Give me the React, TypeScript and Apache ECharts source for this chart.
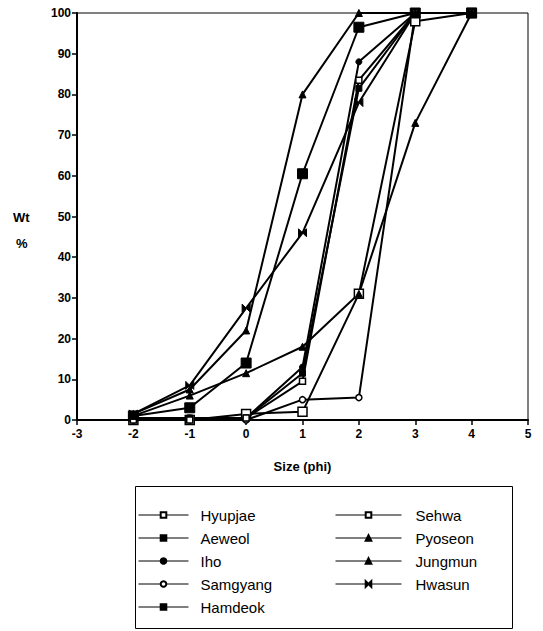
import React, { useEffect, useRef } from "react";
import * as echarts from "echarts";

const sizes = [-2, -1, 0, 1, 2, 3, 4];
const hyupjae = [0, 0, 1.5, 2, 31, 98, 100];
const aeweol = [1, 3, 14, 60.5, 96.5, 100, 100];
const iho = [0.5, 0.5, 0.5, 13, 88, 100, 100];
const samgyang = [0, 0, 0, 5, 5.5, 100, 100];
const hamdeok = [0.5, 0.5, 0.5, 11.5, 81.5, 100, 100];
const sehwa = [0, 0, 0.5, 9.5, 83.5, 100, 100];
const pyoseon = [1, 6, 11.5, 18, 31, 73, 100];
const jungmun = [1.5, 7.5, 22, 80, 100, 100, 100];
const hwasun = [1.5, 8.5, 27.5, 46, 78, 100, 100];

const leftNames = ["Hyupjae", "Aeweol", "Iho", "Samgyang", "Hamdeok"];
const rightNames = ["Sehwa", "Pyoseon", "Jungmun", "Hwasun"];

const FONT = "Liberation Sans, Arial, sans-serif";

export default function App() {
  const ref = useRef<HTMLDivElement>(null);
  useEffect(() => {
    if (!ref.current) return;
    const chart = echarts.init(ref.current, null, { renderer: "svg" });
    const open = { color: "#fff", borderColor: "#000", borderWidth: 1.5 };
    const filled = { color: "#000", borderColor: "#000", borderWidth: 1 };
    const mk = (name: string, vals: number[], symbol: string, size: number, style: any) => ({
      name,
      type: "line",
      data: sizes.map((x, i) => [x, vals[i]]),
      symbol,
      symbolSize: size,
      showSymbol: true,
      lineStyle: { color: "#000", width: 2 },
      itemStyle: style,
      emphasis: { disabled: true },
      z: 3,
    });
    const bowtie = "path://M0,0L10,10L10,0L0,10Z";
    const series = [
      mk("Hyupjae", hyupjae, "rect", 9, open),
      mk("Aeweol", aeweol, "rect", 10, filled),
      mk("Iho", iho, "circle", 6, filled),
      mk("Samgyang", samgyang, "circle", 6, open),
      mk("Hamdeok", hamdeok, "rect", 6, filled),
      mk("Sehwa", sehwa, "rect", 6, open),
      mk("Pyoseon", pyoseon, "triangle", 7, filled),
      mk("Jungmun", jungmun, "triangle", 7, filled),
      mk("Hwasun", hwasun, bowtie, 8, filled),
    ];
    const legendText = (pad: number) => ({
      fontSize: 15,
      lineHeight: 16,
      fontFamily: FONT,
      color: "#000",
      padding: [0, 0, 0, pad],
    });
    const legendBase = {
      orient: "vertical",
      top: 502,
      height: 124,
      itemHeight: 7,
      itemGap: 7,
      selectedMode: false,
      lineStyle: { width: 1 },
    };
    chart.setOption({
      animation: false,
      backgroundColor: "#fff",
      grid: {
        left: 77,
        right: 15,
        top: 13,
        bottom: 211,
        show: true,
        borderColor: "#000",
        borderWidth: 1,
      },
      xAxis: {
        type: "value",
        min: -3,
        max: 5,
        interval: 1,
        name: "Size (phi)",
        nameLocation: "middle",
        nameGap: 40,
        nameTextStyle: { fontSize: 13, fontWeight: "bold", fontFamily: FONT, color: "#000" },
        axisLine: { onZero: false, lineStyle: { color: "#000", width: 2 } },
        axisTick: { show: true, length: 5, lineStyle: { color: "#000", width: 1.5 } },
        axisLabel: { fontSize: 12, fontWeight: "bold", fontFamily: FONT, color: "#000", margin: 8 },
        splitLine: { show: false },
      },
      yAxis: {
        type: "value",
        min: 0,
        max: 100,
        interval: 10,
        axisLine: { show: true, onZero: false, lineStyle: { color: "#000", width: 2 } },
        axisTick: { show: true, length: 5, lineStyle: { color: "#000", width: 1.5 } },
        axisLabel: { fontSize: 12, fontWeight: "bold", fontFamily: FONT, color: "#000", margin: 6 },
        splitLine: { show: false },
      },
      legend: [
        { ...legendBase, data: leftNames, left: 133, itemWidth: 50, textStyle: legendText(7) },
        { ...legendBase, data: rightNames, left: 330, itemWidth: 66, textStyle: legendText(9) },
      ],
      graphic: [
        {
          type: "rect",
          left: 133,
          top: 484,
          shape: { width: 377, height: 142 },
          style: { fill: "none", stroke: "#000", lineWidth: 1 },
        },
        {
          type: "text",
          left: 13,
          top: 211,
          style: { text: "Wt", fontSize: 13, fontWeight: "bold", fontFamily: FONT, fill: "#000" },
        },
        {
          type: "text",
          left: 16,
          top: 237,
          style: { text: "%", fontSize: 13, fontWeight: "bold", fontFamily: FONT, fill: "#000" },
        },
      ],
      series,
    });
    return () => chart.dispose();
  }, []);
  return <div ref={ref} style={{ width: 543, height: 631, position: "absolute", left: 0, top: 0 }} />;
}
